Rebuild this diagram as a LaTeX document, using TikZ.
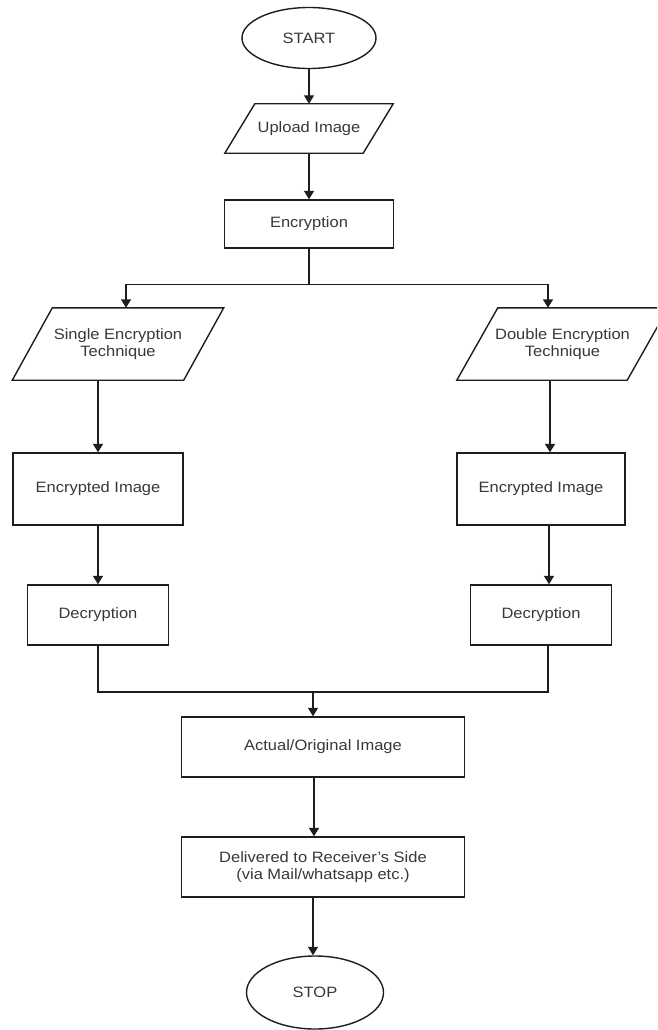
\documentclass[tikz,border=0pt]{standalone}
\usepackage{fontspec}
\setmainfont{Liberation Sans}[FakeStretch=1.1]
\usetikzlibrary{arrows.meta,shapes.geometric}
\definecolor{lncol}{HTML}{1E1E1E}
\definecolor{txtgray}{HTML}{383838}
\begin{document}
\begin{tikzpicture}[x=1pt,y=-1pt,
  every node/.style={font=\fontsize{15}{17}\selectfont, text=txtgray},
  ln/.style={draw=lncol, line width=1.4pt},
  arr/.style={ln, -{Triangle[length=8.5pt,width=10pt]}},
  box/.style={ln, rectangle, inner sep=0pt, align=center},
  term/.style={ln, ellipse, inner sep=0pt},
  para/.style={rectangle, inner sep=0pt, align=center}]
\clip (0,0) rectangle (657,1030);
\fill[white] (0,0) rectangle (657,1030);

% nodes
\node[term, minimum width=134pt, minimum height=61pt] (start) at (309,38) {START};

\node[para, minimum width=138pt, minimum height=49pt] (upload) at (309,128.5) {Upload Image};
\draw[ln] ([xshift=-15pt]upload.south west) -- ([xshift=-15pt]upload.south east)
  -- ([xshift=15pt]upload.north east) -- ([xshift=15pt]upload.north west) -- cycle;

\node[box, minimum width=169pt, minimum height=48pt] (encr) at (309,224) {Encryption};

\node[para, minimum width=171pt, minimum height=72pt] (single) at (118,344) {Single Encryption\\Technique};
\draw[ln] ([xshift=-20pt]single.south west) -- ([xshift=-20pt]single.south east)
  -- ([xshift=20pt]single.north east) -- ([xshift=20pt]single.north west) -- cycle;

\node[para, minimum width=170pt, minimum height=72pt] (double) at (562.5,344) {Double Encryption\\Technique};
\draw[ln] ([xshift=-20.5pt]double.south west) -- ([xshift=-20.5pt]double.south east)
  -- ([xshift=20.5pt]double.north east) -- ([xshift=20.5pt]double.north west) -- cycle;

\node[box, minimum width=170pt, minimum height=72pt] (enc1) at (98,489) {Encrypted Image};
\node[box, minimum width=168pt, minimum height=72pt] (enc2) at (541,489) {Encrypted Image};

\node[box, minimum width=141pt, minimum height=60pt] (dec1) at (98,615) {Decryption};
\node[box, minimum width=141pt, minimum height=60pt] (dec2) at (541,615) {Decryption};

\node[box, minimum width=283pt, minimum height=60pt] (actual) at (323,747) {Actual/Original Image};
\node[box, minimum width=283pt, minimum height=60pt] (deliv) at (323,867) {Delivered to Receiver's Side\\(via Mail/whatsapp etc.)};

\node[term, minimum width=137pt, minimum height=73pt] (stop) at (315,992.5) {STOP};

% connectors
\draw[arr] (start.south) -- (start.south |- upload.north);
\draw[arr] (upload.south) -- (upload.south |- encr.north);
\draw[ln] (encr.south) -- ++(0,36) coordinate (split);
\draw[arr] (split) -| ([xshift=8pt]single.north);
\draw[arr] (split) -| ([xshift=-14.5pt]double.north);

\draw[arr] ([xshift=-20pt]single.south) -- (enc1.north);
\draw[arr] ([xshift=-12.5pt]double.south) -- ([xshift=9pt]enc2.north);

\draw[arr] (enc1.south) -- (enc1.south |- dec1.north);
\draw[arr] ([xshift=8pt]enc2.south) -- ([xshift=8pt]dec2.north);

\coordinate (merge) at (313,692);
\draw[ln] (dec1.south) |- (merge);
\draw[ln] ([xshift=7pt]dec2.south) |- (merge);
\draw[arr] (merge) -- (merge |- actual.north);

\draw[arr] ([xshift=-9pt]actual.south) -- ([xshift=-9pt]deliv.north);
\draw[arr] ([xshift=-10pt]deliv.south) -- ([xshift=-10pt]deliv.south |- stop.north);
\end{tikzpicture}
\end{document}
